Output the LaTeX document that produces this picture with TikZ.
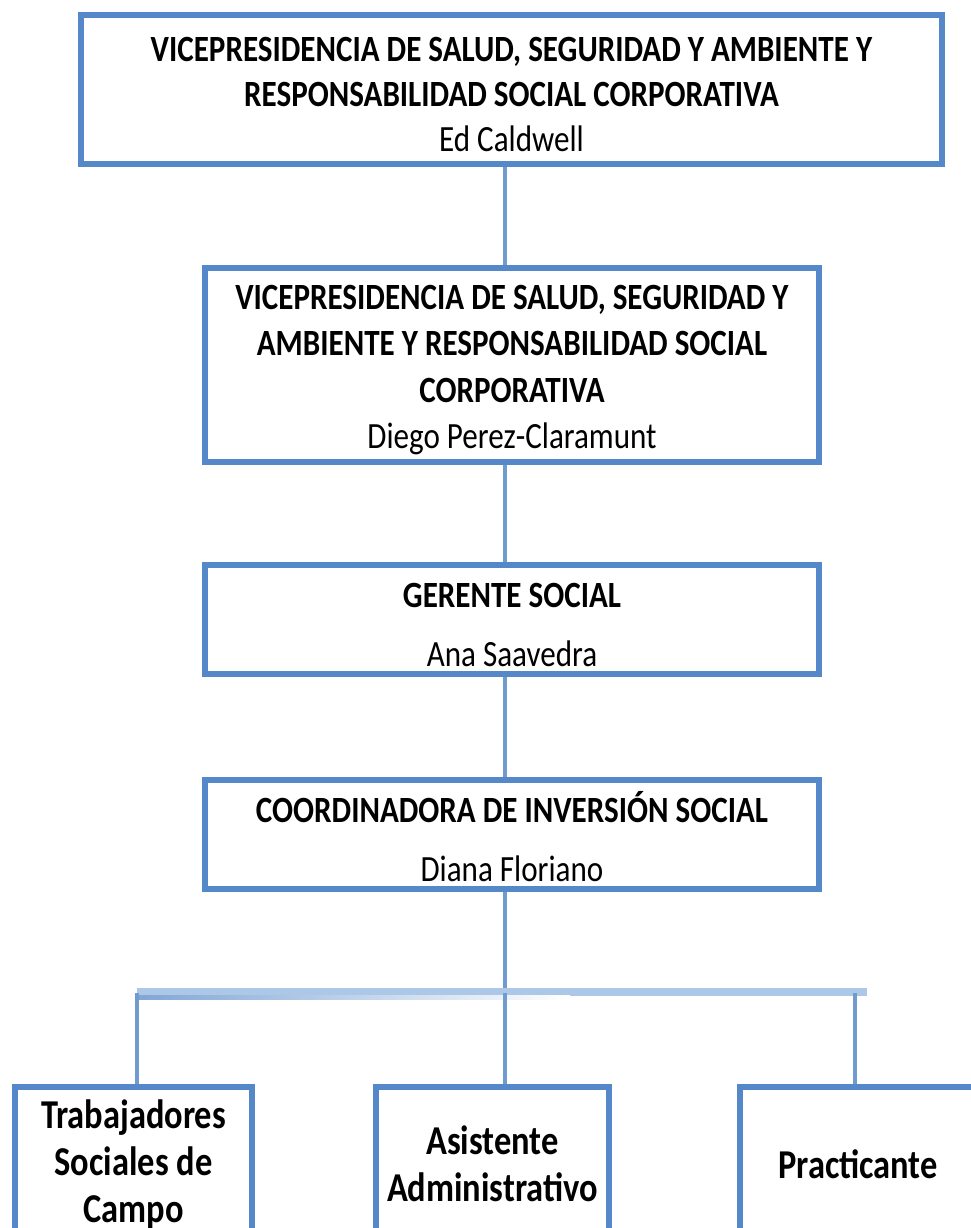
\documentclass[tikz,border=0pt]{standalone}
\usepackage{fontspec}
\setmainfont{Carlito}[FakeStretch=0.84]
\usetikzlibrary{positioning}
\definecolor{boxblue}{RGB}{84,136,200}
\definecolor{lineblue}{RGB}{112,155,205}
\definecolor{barblue}{RGB}{172,200,230}
\definecolor{shadeblue}{RGB}{128,166,214}

\begin{document}
\begin{tikzpicture}[x=1pt, y=-1pt,
  every node/.style={font=\fontsize{37}{45}\selectfont},
  cargo/.style={draw=boxblue, line width=6.5pt, fill=white, inner sep=0pt},
  texto/.style={align=center, inner sep=0pt},
  base/.style={cargo, align=center, minimum height=154, font=\bfseries\fontsize{41}{47}\selectfont},
  enlace/.style={draw=lineblue, line width=3.5pt}]
  \clip (0,0) rectangle (971,1228);

  % boxes of the chain
  \node[cargo, minimum width=861, minimum height=149] (vp1) at (511.5,89.5) {};
  \node[texto] (vp1t) at ([yshift=-5pt]vp1.center)
    {\textbf{VICEPRESIDENCIA DE SALUD, SEGURIDAD Y AMBIENTE Y}\\
     \textbf{RESPONSABILIDAD SOCIAL CORPORATIVA}\\ Ed Caldwell};
  \node[cargo, minimum width=614, minimum height=194] (vp2) at (512,365) {};
  \node[texto, font=\fontsize{37}{46.3}\selectfont] (vp2t) at ([yshift=-5pt]vp2.center)
    {\textbf{VICEPRESIDENCIA DE SALUD, SEGURIDAD Y}\\
     \textbf{AMBIENTE Y RESPONSABILIDAD SOCIAL}\\
     \textbf{CORPORATIVA}\\ Diego Perez-Claramunt};
  \node[cargo, minimum width=614, minimum height=109] (gerente) at (512,619.5) {};
  \node[texto] (gerentet) at ([yshift=-5.5pt]gerente.center)
    {\textbf{GERENTE SOCIAL}\\[14pt] Ana Saavedra};
  \node[cargo, minimum width=614, minimum height=109] (coord) at (512,834.5) {};
  \node[texto] (coordt) at ([yshift=-2pt]coord.center)
    {\textbf{COORDINADORA DE INVERSIÓN SOCIAL}\\[14pt] Diana Floriano};

  % bottom row
  \node[base, minimum width=237] (trab) at (133.5,1164)
    {Trabajadores\\ Sociales de\\ Campo};
  \node[base, minimum width=233] (asist) at (492.5,1164)
    {Asistente\\ Administrativo};
  \node[base, minimum width=260, text width=236] (pract) at (870,1164)
    {\hspace*{-24pt}Practicante};

  % connectors
  \draw[enlace] (vp1.south -| 505,0) -- (vp2.north -| 505,0);
  \draw[enlace] (vp2.south -| 505,0) -- (gerente.north -| 505,0);
  \draw[enlace] (gerente.south -| 505,0) -- (coord.north -| 505,0);
  \coordinate (bar) at (505,993);
  \draw[enlace] (coord.south -| bar) -- (bar);
  \draw[barblue, line width=8pt] (137,992) -- (867,992);
  \shade[left color=shadeblue, right color=white] (137,995) rectangle (570,999);
  \draw[enlace] (137,993) -- (trab.north -| 137,0);
  \draw[enlace] (bar) -- (asist.north -| bar);
  \draw[enlace] (855,993) -- (pract.north -| 855,0);
\end{tikzpicture}
\end{document}
